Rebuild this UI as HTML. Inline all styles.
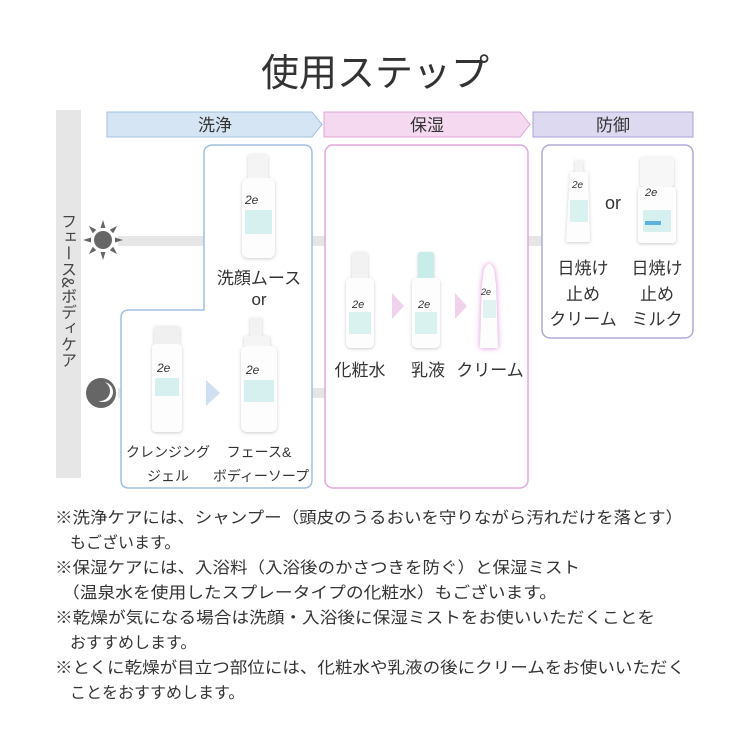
<!DOCTYPE html>
<html><head><meta charset="utf-8"><style>
html,body{margin:0;padding:0;background:#fff}
svg{display:block}
text{font-family:"Liberation Sans","Noto Sans CJK JP",sans-serif;fill:#333}
.vt{position:absolute;left:59px;top:213px;writing-mode:vertical-rl;font-family:"Noto Sans CJK JP",sans-serif;font-size:16px;color:#444;line-height:20px}
</style></head><body>
<div class="vt">フェース&amp;ボディケア</div>
<svg width="750" height="750" viewBox="0 0 750 750" xmlns="http://www.w3.org/2000/svg">
<defs>
<filter id="sh" x="-30%" y="-10%" width="160%" height="120%"><feDropShadow dx="0" dy="1" stdDeviation="1.5" flood-color="#999" flood-opacity="0.5"/></filter>
<filter id="glow" x="-60%" y="-20%" width="220%" height="140%"><feDropShadow dx="0" dy="0" stdDeviation="3" flood-color="#d77fd0" flood-opacity="0.9"/></filter>
</defs>
<text x="375" y="86" font-size="38" text-anchor="middle" fill="#333">使用ステップ</text>

<rect x="56" y="110" width="25" height="368" fill="#e6e6e6"/>

<rect x="118" y="236" width="425" height="10" fill="#e6e6e6"/>
<rect x="118" y="388" width="210" height="10" fill="#e6e6e6"/>

<g fill="#666" transform="translate(103,240)">
<circle r="9"/>
<g id="ray"><polygon points="-2.5,-12 2.5,-12 0,-20"/></g>
<use href="#ray" transform="rotate(45)"/><use href="#ray" transform="rotate(90)"/><use href="#ray" transform="rotate(135)"/>
<use href="#ray" transform="rotate(180)"/><use href="#ray" transform="rotate(225)"/><use href="#ray" transform="rotate(270)"/><use href="#ray" transform="rotate(315)"/>
</g>
<circle cx="101" cy="393" r="15" fill="#666"/>
<circle cx="103" cy="392" r="10" fill="#fff"/>
<circle cx="100" cy="391" r="10" fill="#666"/>

<polygon points="107,112 312,112 322,124.5 312,137 107,137" fill="#d6e5f4" stroke="#9fc0e0"/>
<text x="215" y="131" font-size="17" text-anchor="middle">洗浄</text>
<polygon points="324,112 520,112 530,124.5 520,137 324,137" fill="#f4d9f0" stroke="#dca8d8"/>
<text x="427" y="131" font-size="17" text-anchor="middle">保湿</text>
<rect x="533" y="112" width="160" height="25" fill="#dcd9f0" stroke="#aaa4d6"/>
<text x="613" y="131" font-size="17" text-anchor="middle">防御</text>

<path d="M214,145 H304 Q312,145 312,153 V480 Q312,488 304,488 H129 Q121,488 121,480 V318 Q121,310 129,310 H204 V153 Q204,145 214,145 Z" fill="#fff" stroke="#9fc0e0" stroke-width="1.5"/>
<rect x="325" y="145" width="203" height="343" rx="8" fill="#fff" stroke="#e0a8dc" stroke-width="1.5"/>
<rect x="542" y="145" width="151" height="193" rx="8" fill="#fff" stroke="#b0a8d8" stroke-width="1.5"/>

<g filter="url(#sh)">
<rect x="248" y="154" width="20" height="28" rx="3" fill="#f4f4f4"/>
<rect x="242" y="178" width="33" height="80" rx="6" fill="#fdfdfd"/>
</g>
<text x="245" y="204" font-size="12" fill="#3aa0c0" font-style="italic">2e</text>
<rect x="245" y="210" width="27" height="24" fill="#d5f0ee"/>
<g filter="url(#sh)">
<rect x="154" y="326" width="26" height="20" rx="3" fill="#f0f0f0"/>
<rect x="152" y="344" width="30" height="88" rx="4" fill="#fdfdfd"/>
</g>
<text x="157" y="372" font-size="12" fill="#3aa0c0" font-style="italic">2e</text>
<rect x="155" y="378" width="24" height="18" fill="#d5f0ee"/>
<polygon points="206,380 220,393 206,406" fill="#cfe0f2"/>
<g filter="url(#sh)">
<rect x="250" y="318" width="12" height="22" fill="#f2f2f2"/>
<rect x="244" y="336" width="26" height="10" fill="#f5f5f5"/>
<rect x="241" y="346" width="36" height="86" rx="6" fill="#fdfdfd"/>
</g>
<text x="246" y="374" font-size="12" fill="#3aa0c0" font-style="italic">2e</text>
<rect x="244" y="380" width="30" height="22" fill="#d5f0ee"/>
<g filter="url(#sh)">
<rect x="352" y="252" width="16" height="30" rx="3" fill="#f2f2f2"/>
<rect x="346" y="278" width="28" height="70" rx="5" fill="#fdfdfd"/>
</g>
<text x="352" y="308" font-size="11" fill="#3aa0c0" font-style="italic">2e</text>
<rect x="349" y="312" width="22" height="22" fill="#d9f1ef"/>
<polygon points="392,293 404,306 392,319" fill="#f0d2ec"/>
<g filter="url(#sh)">
<rect x="418" y="252" width="16" height="30" rx="3" fill="#c8ece8"/>
<rect x="412" y="278" width="28" height="70" rx="5" fill="#fdfdfd"/>
</g>
<text x="418" y="308" font-size="11" fill="#3aa0c0" font-style="italic">2e</text>
<rect x="415" y="312" width="22" height="22" fill="#d9f1ef"/>
<polygon points="455,293 467,306 455,319" fill="#f0d2ec"/>
<g filter="url(#glow)">
<path d="M484,270 Q489,258 494,270 L496,285 L498,348 H480 L482,285 Z" fill="#fdfdfd"/>
</g>
<text x="481" y="295" font-size="9" fill="#3aa0c0" font-style="italic">2e</text>
<rect x="483" y="300" width="13" height="18" fill="#e0f3f1"/>
<g filter="url(#sh)">
<rect x="575" y="160" width="8" height="12" fill="#f4f4f4"/>
<path d="M570,172 H588 L590,242 H566 Z" fill="#fdfdfd"/>
</g>
<text x="572" y="188" font-size="10" fill="#3aa0c0" font-style="italic">2e</text>
<rect x="570" y="200" width="18" height="22" fill="#d9f1ef"/>
<text x="613" y="209" font-size="18" text-anchor="middle">or</text>
<g filter="url(#sh)">
<rect x="640" y="157" width="34" height="30" rx="4" fill="#f7f7f7"/>
<rect x="638" y="187" width="38" height="56" rx="3" fill="#fdfdfd"/>
</g>
<text x="645" y="196" font-size="11" fill="#3aa0c0" font-style="italic">2e</text>
<rect x="643" y="210" width="28" height="22" fill="#d5f0ee"/>
<rect x="645" y="221" width="16" height="4" fill="#5fb0dc"/>

<g font-size="17" text-anchor="middle">
<text x="259" y="284">洗顔ムース</text>
<text x="259" y="305">or</text>
<text x="168" y="457" font-size="14">クレンジング</text>
<text x="168" y="481" font-size="14">ジェル</text>
<text x="259" y="457" font-size="14">フェース&amp;</text>
<text x="261" y="481" font-size="14">ボディーソープ</text>
<text x="360" y="376">化粧水</text>
<text x="428" y="376">乳液</text>
<text x="490" y="376">クリーム</text>
<text x="583" y="274">日焼け</text>
<text x="583" y="300">止め</text>
<text x="583" y="325">クリーム</text>
<text x="657" y="274">日焼け</text>
<text x="657" y="300">止め</text>
<text x="657" y="325">ミルク</text>
</g>

<g font-size="16" fill="#333">
<text x="55" y="523" textLength="628" lengthAdjust="spacingAndGlyphs">※洗浄ケアには、シャンプー（頭皮のうるおいを守りながら汚れだけを落とす）</text>
<text x="70" y="548">もございます。</text>
<text x="55" y="573" textLength="525" lengthAdjust="spacingAndGlyphs">※保湿ケアには、入浴料（入浴後のかさつきを防ぐ）と保湿ミスト</text>
<text x="62" y="598" textLength="495" lengthAdjust="spacingAndGlyphs">（温泉水を使用したスプレータイプの化粧水）もございます。</text>
<text x="55" y="623" textLength="600" lengthAdjust="spacingAndGlyphs">※乾燥が気になる場合は洗顔・入浴後に保湿ミストをお使いいただくことを</text>
<text x="70" y="648">おすすめします。</text>
<text x="55" y="673" textLength="630" lengthAdjust="spacingAndGlyphs">※とくに乾燥が目立つ部位には、化粧水や乳液の後にクリームをお使いいただく</text>
<text x="70" y="698">ことをおすすめします。</text>
</g>
</svg>
</body></html>
